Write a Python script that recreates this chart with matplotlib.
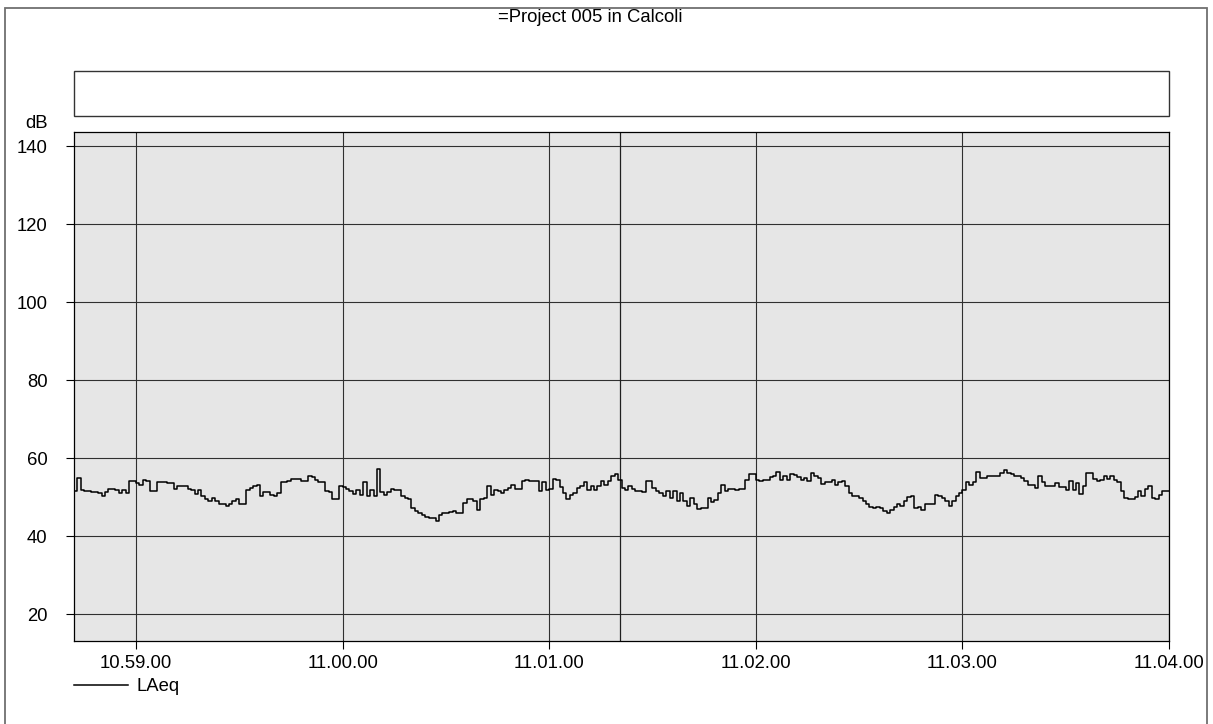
import numpy as np
import matplotlib
matplotlib.use("Agg")
import matplotlib.pyplot as plt
from matplotlib.patches import Rectangle

plt.rcParams['font.family'] = ['Liberation Sans', 'DejaVu Sans']

# LAeq, one value per second, starting 78 s before 11.00.00
t_start = -78
laeq = [
    51.5, 54.9, 51.9, 51.5, 51.5, 51.2, 51.2, 51.1, 50.2, 51.2,
    52.1, 52.1, 51.7, 51.1, 51.7, 51.1, 54.2, 54.0, 53.6, 53.2,
    54.3, 54.0, 51.5, 51.5, 53.9, 53.9, 53.9, 53.6, 53.6, 52.1,
    52.8, 52.8, 52.8, 52.1, 51.7, 50.9, 51.7, 50.4, 49.6, 49.1,
    49.8, 48.9, 48.1, 48.1, 47.6, 48.1, 48.9, 49.4, 48.1, 48.1,
    51.9, 52.3, 52.9, 53.2, 50.4, 51.2, 51.2, 50.6, 50.2, 51.1,
    53.8, 53.8, 54.1, 54.7, 54.7, 54.7, 54.1, 54.1, 55.5, 55.1,
    54.5, 53.8, 53.8, 51.5, 51.2, 49.5, 49.5, 52.8, 52.6, 52.1,
    51.5, 50.8, 51.9, 50.6, 53.8, 50.2, 51.7, 50.2, 57.3, 51.2,
    50.6, 51.2, 52.1, 51.7, 51.7, 50.4, 49.8, 49.4, 47.2, 46.4,
    45.9, 45.3, 44.9, 44.7, 44.7, 43.9, 45.3, 45.9, 45.9, 46.1,
    46.4, 45.9, 45.9, 48.5, 49.4, 49.4, 48.9, 46.8, 49.4, 49.8,
    52.9, 50.6, 51.9, 51.5, 51.1, 51.9, 52.3, 53.2, 52.1, 52.1,
    54.1, 54.5, 54.1, 54.2, 54.2, 51.5, 53.8, 51.7, 52.1, 54.7,
    54.5, 52.6, 51.1, 49.5, 50.6, 51.1, 52.3, 52.8, 53.8, 51.7,
    52.9, 51.7, 52.9, 54.1, 53.2, 54.1, 55.3, 55.9, 54.5, 52.3,
    51.9, 52.9, 52.1, 51.5, 51.5, 51.2, 54.1, 54.2, 52.3, 51.5,
    51.1, 50.4, 51.5, 49.8, 51.5, 48.9, 51.1, 48.9, 47.8, 49.8,
    48.1, 47.0, 47.2, 47.2, 49.8, 48.7, 49.2, 51.1, 53.2, 51.5,
    52.1, 52.1, 51.9, 52.1, 52.1, 54.5, 55.8, 55.8, 54.5, 54.1,
    54.5, 54.5, 55.2, 55.5, 56.4, 54.3, 55.5, 54.5, 55.9, 55.6,
    55.2, 54.5, 54.9, 54.1, 56.2, 55.3, 54.9, 53.4, 53.8, 53.8,
    54.3, 53.2, 53.8, 54.1, 52.9, 51.1, 50.4, 50.4, 49.8, 48.9,
    48.3, 47.5, 47.2, 47.5, 47.2, 46.4, 45.9, 46.8, 47.4, 48.3,
    47.8, 48.9, 50.0, 50.4, 47.2, 47.5, 46.8, 48.1, 48.3, 48.3,
    50.6, 50.2, 49.8, 48.9, 47.8, 49.1, 50.4, 51.1, 51.9, 53.8,
    53.2, 53.8, 56.4, 54.9, 54.9, 55.3, 55.3, 55.5, 55.5, 56.2,
    57.0, 56.2, 55.8, 55.3, 55.3, 54.9, 54.2, 53.2, 53.2, 52.3,
    55.3, 53.8, 52.8, 52.8, 52.9, 53.5, 52.6, 52.6, 51.9, 54.1,
    51.7, 53.6, 50.8, 52.8, 56.2, 56.2, 54.7, 54.1, 54.5, 55.3,
    54.7, 55.3, 54.3, 53.8, 51.5, 49.8, 49.5, 49.5, 50.0, 51.5,
    50.4, 52.1, 52.9, 49.8, 49.5, 50.6, 51.5, 51.5,
]
x_ticks = [-60, 0, 60, 120, 180, 240]
x_labels = ["10.59.00", "11.00.00", "11.01.00", "11.02.00", "11.03.00", "11.04.00"]
y_ticks = [20, 40, 60, 80, 100, 120, 140]
marker_time = 80.6
title = "=Project 005 in Calcoli"

W, H = 1213, 724
fig = plt.figure(figsize=(W / 100, H / 100), dpi=100)

def fx(px):
    return px / W

def fy(py):
    return 1 - py / H

fs = 13.3

# outer frame and empty header box
fig.add_artist(Rectangle((fx(5), fy(735)), fx(1207) - fx(5), fy(8) - fy(735),
                         transform=fig.transFigure, fill=False, ec='#707070', lw=1.3))
fig.add_artist(Rectangle((fx(74), fy(116)), fx(1169) - fx(74), fy(71) - fy(116),
                         transform=fig.transFigure, fill=False, ec='#333333', lw=1.0))
fig.text(fx(590), fy(18), title, ha='center', va='center', fontsize=fs)

ax = fig.add_axes([fx(74), fy(641), fx(1169) - fx(74), fy(132) - fy(641)])
ax.set_facecolor('#e6e6e6')

vals = np.array(laeq + [laeq[-1]])
t = np.arange(len(vals)) + t_start
ax.step(t, vals, where='post', color='black', lw=1.1, label='LAeq', zorder=3)

ax.axvline(marker_time, color='#202020', lw=0.9, zorder=2)

ax.set_xlim(t_start, 240)
ax.set_ylim(13.1, 143.6)
ax.set_xticks(x_ticks)
ax.set_xticklabels(x_labels)
ax.set_yticks(y_ticks)
ax.grid(True, color='#303030', lw=0.8, zorder=1)
ax.set_axisbelow(True)
ax.tick_params(axis='both', direction='out', length=6, width=0.8, labelsize=fs)
ax.tick_params(axis='x', pad=4)
ax.tick_params(axis='y', pad=13)
for s in ax.spines.values():
    s.set_color('black')
    s.set_linewidth(0.9)

fig.text(fx(48), fy(124), "dB", ha='right', va='center', fontsize=fs)

ax.legend(loc='upper left', bbox_to_anchor=(fx(74), fy(678)), bbox_transform=fig.transFigure,
          frameon=False, borderaxespad=0, borderpad=0, handlelength=2.9,
          handletextpad=0.5, fontsize=fs)

fig.savefig("out.png", dpi=100)
